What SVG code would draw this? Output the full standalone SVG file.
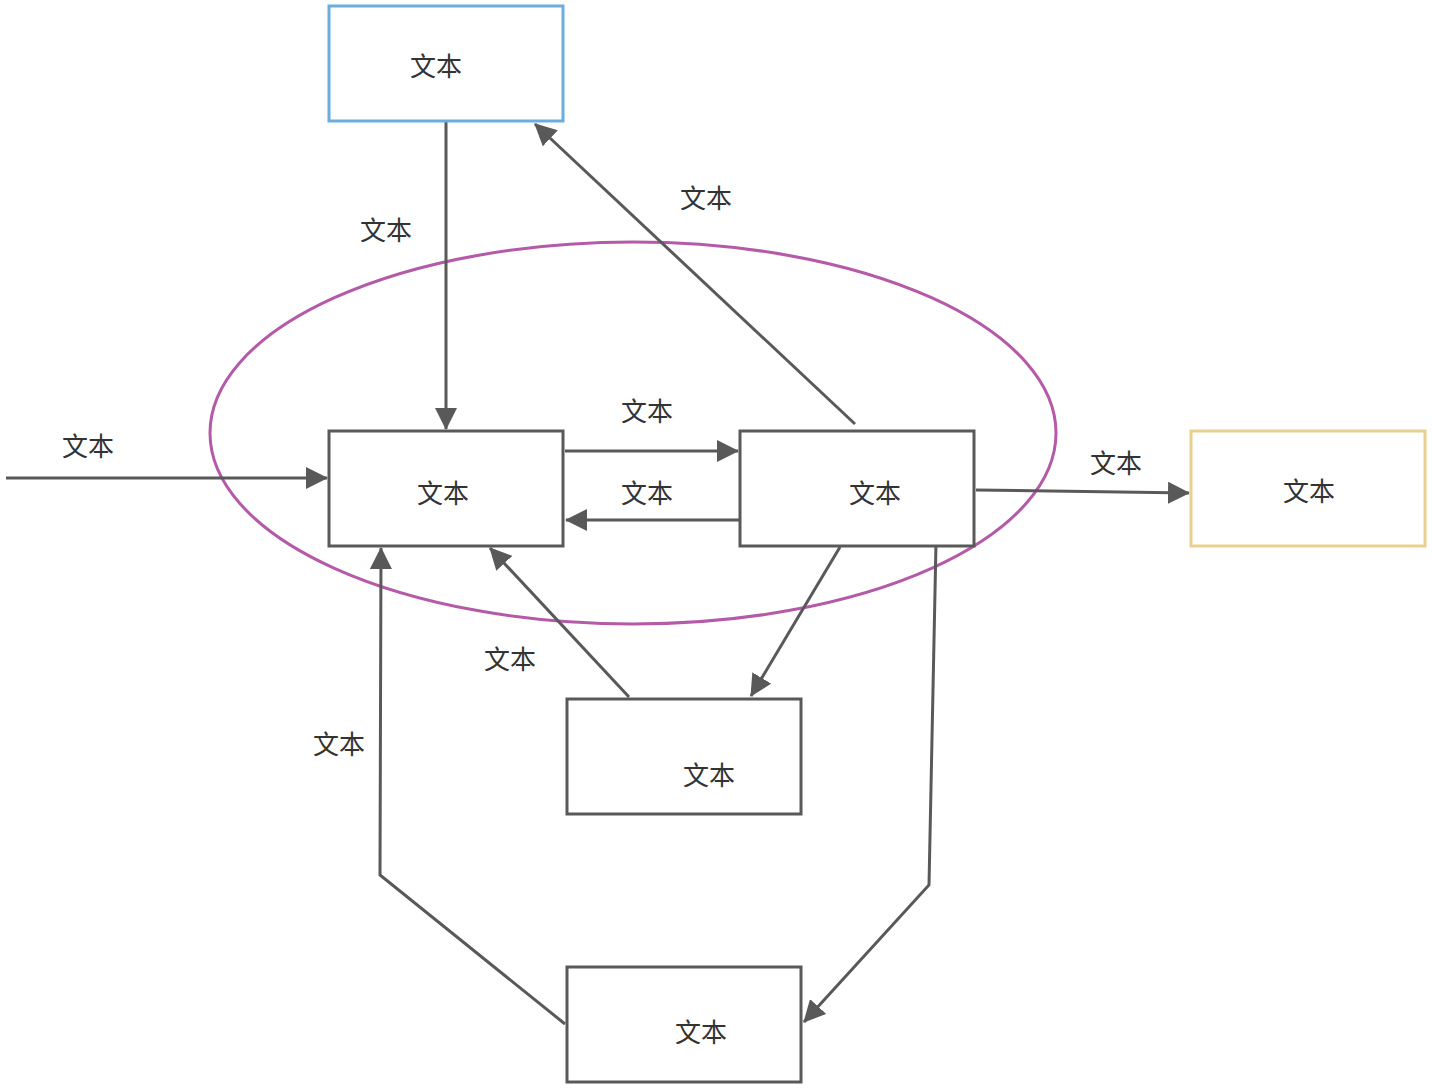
<svg xmlns="http://www.w3.org/2000/svg" width="1432" height="1088" viewBox="0 0 1432 1088">
<style>
.box{fill:#fff;stroke:#595959;stroke-width:3}
.t{font-family:"Noto Sans CJK SC","Liberation Sans",sans-serif;font-size:26px;fill:#333;text-anchor:middle;dominant-baseline:central}
.c{fill:none;stroke:#595959;stroke-width:3;stroke-linejoin:miter}
</style>
<defs>
<marker id="ah" markerUnits="userSpaceOnUse" markerWidth="22" markerHeight="22" viewBox="0 0 22 22" refX="21" refY="11" orient="auto">
<path d="M0,0 L22,11 L0,22 z" fill="#595959"/>
</marker>
</defs>
<rect width="1432" height="1088" fill="#fff"/>
<ellipse id="ellipse" cx="633" cy="433" rx="423" ry="191" fill="none" stroke="#b45aa8" stroke-width="3"/>
<g id="connectors">
<path class="c" d="M446,121 L446,429" marker-end="url(#ah)"/>
<path class="c" d="M855,424 L535,124" marker-end="url(#ah)"/>
<path class="c" d="M6,478 L327,478" marker-end="url(#ah)"/>
<path class="c" d="M565,451 L738,451" marker-end="url(#ah)"/>
<path class="c" d="M740,520 L566,520" marker-end="url(#ah)"/>
<path class="c" d="M976,490 L1189,493" marker-end="url(#ah)"/>
<path class="c" d="M629,697 L490,548" marker-end="url(#ah)"/>
<path class="c" d="M840,547 L751,696" marker-end="url(#ah)"/>
<path class="c" d="M565,1024 L380,875 L381,548" marker-end="url(#ah)"/>
<path class="c" d="M936,543 L929,885 L804,1022" marker-end="url(#ah)"/>
<text class="t" x="386" y="228">文本</text>
<text class="t" x="706" y="196">文本</text>
<text class="t" x="88" y="444">文本</text>
<text class="t" x="647" y="409">文本</text>
<text class="t" x="647" y="491">文本</text>
<text class="t" x="1116" y="461">文本</text>
<text class="t" x="510" y="657">文本</text>
<text class="t" x="339" y="742">文本</text>
</g>
<g id="top"><rect x="329" y="6" width="234" height="115" fill="#fff" stroke="#6aaedc" stroke-width="3"/><text class="t" x="436" y="64">文本</text></g>
<g id="nodeA"><rect class="box" x="329" y="431" width="234" height="115"/><text class="t" x="443" y="491">文本</text></g>
<g id="nodeB"><rect class="box" x="740" y="431" width="234" height="115"/><text class="t" x="875" y="491">文本</text></g>
<g id="yellow"><rect x="1191" y="431" width="234" height="115" fill="#fff" stroke="#e8d08e" stroke-width="3"/><text class="t" x="1309" y="489">文本</text></g>
<g id="nodeC"><rect class="box" x="567" y="699" width="234" height="115"/><text class="t" x="709" y="773">文本</text></g>
<g id="nodeD"><rect class="box" x="567" y="967" width="234" height="115"/><text class="t" x="701" y="1030">文本</text></g>
</svg>
